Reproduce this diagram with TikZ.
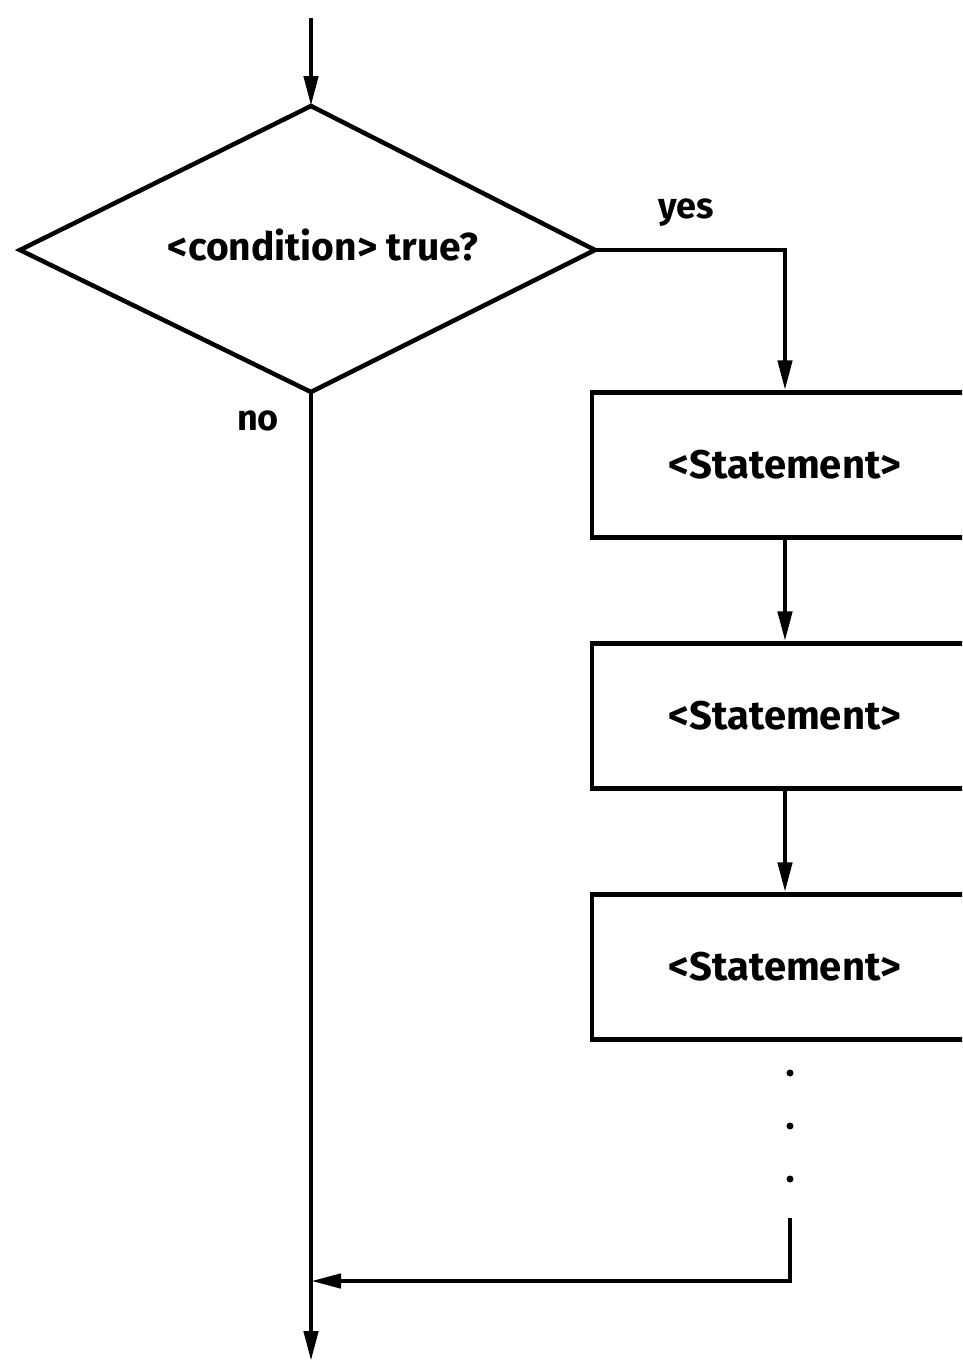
\documentclass[tikz,border=0pt]{standalone}
\usepackage{fontspec}
\setmainfont{Fira Sans}
\usetikzlibrary{arrows.meta}
\begin{document}
\begin{tikzpicture}[x=1pt,y=-1pt,
  line width=4.5pt,
  flow/.style={-{Triangle[length=30pt,width=14pt]}},
  lbl/.style={font=\fontsize{36}{40}\selectfont\bfseries, inner sep=0pt},
  stmt/.style={draw, minimum width=386pt, minimum height=145pt, inner sep=0pt,
     font=\fontsize{40}{46}\selectfont\bfseries},
  dot/.style={circle, fill, inner sep=0pt, minimum size=7pt}]
\useasboundingbox (0,0) rectangle (962,1361);
\clip (0,0) rectangle (962,1361);
\fill[white] (0,0) rectangle (962,1361);
% diamond
\coordinate (dt) at (311,106);
\coordinate (dl) at (20,250);
\coordinate (dr) at (595,250);
\coordinate (db) at (311,392);
\draw[line join=miter] (dt) -- (dr) -- (db) -- (dl) -- cycle;
\node[lbl, font=\fontsize{39}{44}\selectfont\bfseries] (cond) at (323,245) {<condition> true?};
\coordinate (start) at (311,18);
\draw[flow] (start) -- (dt);
% labels
\node[lbl] (yes) at (686,213) {yes};
\node[lbl] (no) at (258,421) {no};
% statements
\node[stmt] (s1) at (785,465) {<Statement>};
\node[stmt] (s2) at (785,716) {<Statement>};
\node[stmt] (s3) at (785,967) {<Statement>};
\draw[flow] (dr) -| (s1.north);
\draw[flow] (s1) -- (s2);
\draw[flow] (s2) -- (s3);
% dots
\node[dot] (d1) at (790,1073) {};
\node[dot] (d2) at (790,1126) {};
\node[dot] (d3) at (790,1179) {};
\coordinate (ret) at (790,1218);
\coordinate (join) at (311,1281);
\coordinate (endp) at (311,1361);
\draw[flow] (ret) |- (join);
\draw[flow] (db) -- (endp);
\end{tikzpicture}
\end{document}
